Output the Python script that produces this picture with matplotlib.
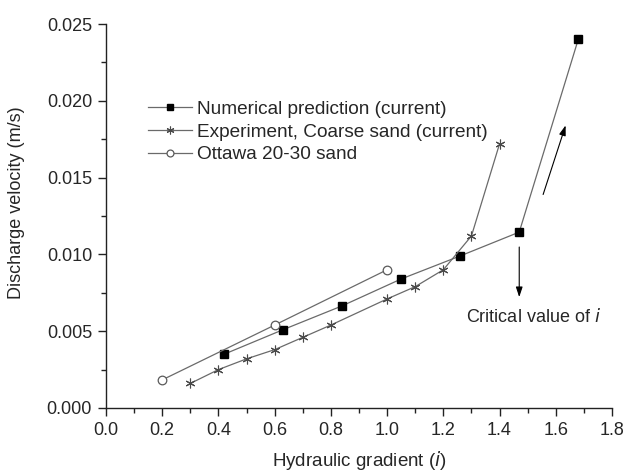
import matplotlib
matplotlib.use("Agg")
import matplotlib.pyplot as plt
from matplotlib.ticker import MultipleLocator, FormatStrFormatter

plt.rcParams['font.family'] = ['Liberation Sans', 'DejaVu Sans']

num_x = [0.42, 0.63, 0.84, 1.05, 1.26, 1.47, 1.68]
num_y = [0.0035, 0.0051, 0.00665, 0.0084, 0.0099, 0.01145, 0.0240]

exp_x = [0.3, 0.4, 0.5, 0.6, 0.7, 0.8, 1.0, 1.1, 1.2, 1.3, 1.4]
exp_y = [0.0016, 0.0025, 0.0032, 0.0038, 0.0046, 0.0054, 0.0071, 0.0079, 0.0090, 0.0112, 0.0172]

ott_x = [0.2, 0.6, 1.0]
ott_y = [0.00183, 0.0054, 0.0090]

fig = plt.figure(figsize=(6.3, 4.71), dpi=100)
ax = fig.add_axes([106/630, 63/471, 506/630, 384/471])

lc = '#6a6a6a'
tc = '#262626'
ax.plot(num_x, num_y, '-', color=lc, lw=0.9, marker='s', ms=5.6,
        mfc='black', mec='black', label='Numerical prediction (current)', zorder=3)
ax.plot(exp_x, exp_y, '-', color=lc, lw=0.9, marker=(6, 2, 0), ms=7,
        mec='#4a4a4a', mew=0.8, label='Experiment, Coarse sand (current)', zorder=3)
ax.plot(ott_x, ott_y, '-', color=lc, lw=0.9, marker='o', ms=6.2,
        mfc='white', mec='#5a5a5a', mew=0.9, label='Ottawa 20-30 sand', zorder=3)

ax.annotate('', xy=(1.47, 0.00722), xytext=(1.47, 0.01048),
            arrowprops=dict(arrowstyle='-|>,head_length=0.6,head_width=0.2', color='black', lw=0.8,
                            mutation_scale=10, shrinkA=0, shrinkB=0))
ax.annotate('', xy=(1.635, 0.0184), xytext=(1.555, 0.0139),
            arrowprops=dict(arrowstyle='-|>,head_length=0.6,head_width=0.2', color='black', lw=0.8,
                            mutation_scale=10, shrinkA=0, shrinkB=0))
ax.text(1.28, 0.00595, 'Critical value of $\\it{i}$', fontsize=13,
        color=tc, va='center', ha='left')

ax.set_xlim(0, 1.8)
ax.set_ylim(0, 0.025)
ax.xaxis.set_major_locator(MultipleLocator(0.2))
ax.xaxis.set_minor_locator(MultipleLocator(0.1))
ax.yaxis.set_major_locator(MultipleLocator(0.005))
ax.yaxis.set_minor_locator(MultipleLocator(0.0025))
ax.xaxis.set_major_formatter(FormatStrFormatter('%.1f'))
ax.yaxis.set_major_formatter(FormatStrFormatter('%.3f'))

for s in ['top', 'right']:
    ax.spines[s].set_visible(False)
for s in ['left', 'bottom']:
    ax.spines[s].set_color('#222222')
    ax.spines[s].set_linewidth(1.0)

ax.tick_params(which='major', direction='out', length=6, width=1.0, pad=4,
               labelsize=13, colors='#222222', labelcolor=tc)
ax.tick_params(which='minor', direction='out', length=3.3, width=1.0, colors='#222222')

ax.set_xlabel('Hydraulic gradient ($\\it{i}$)', fontsize=13.5, color=tc)
ax.set_ylabel('Discharge velocity (m/s)', fontsize=13, color=tc)
ax.xaxis.set_label_coords(0.5, -0.108)
ax.yaxis.set_label_coords(-0.16, 0.535)

leg = ax.legend(loc='upper left', bbox_to_anchor=(0.083, 0.80), frameon=False,
                fontsize=13.7, handlelength=2.3, handletextpad=0.3,
                labelspacing=0.28, borderaxespad=0, borderpad=0, markerscale=0.8)
for t in leg.get_texts():
    t.set_color(tc)

fig.savefig('out.png', dpi=100)
